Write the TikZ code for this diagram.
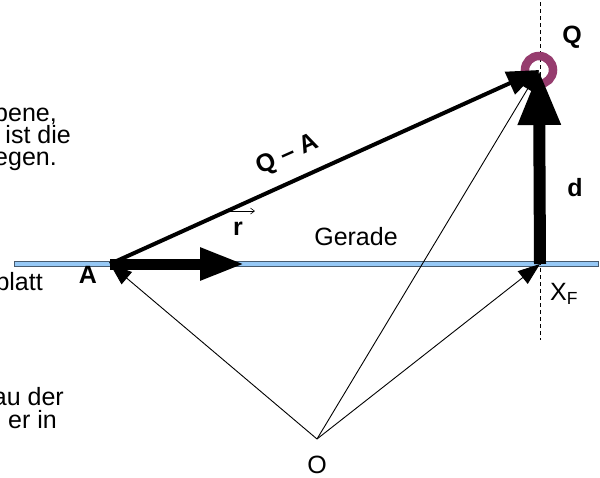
\documentclass[tikz,border=0pt]{standalone}
\usepackage{fontspec}
\setmainfont{Liberation Sans}
\usetikzlibrary{arrows.meta, calc}
\definecolor{cLine}{RGB}{150,200,245}
\definecolor{cEdge}{RGB}{70,90,110}
\definecolor{cRing}{RGB}{150,60,110}
\tikzset{
	lbl/.style={font=\fontsize{25}{29}\selectfont, inner sep=0pt},
	boldlbl/.style={font=\fontsize{25}{29}\selectfont\bfseries, inner sep=0pt},
	sidetext/.style={font=\fontsize{25}{29}\selectfont, inner sep=0pt, anchor=base east},
	thinvec/.style={-{Triangle[length=22pt, width=16pt]}, line width=0.9pt},
	diffvec/.style={-{Triangle[length=32pt, width=24pt]}, line width=4pt},
	rvec/.style={-{Triangle[length=45pt, width=30pt]}, line width=11pt},
	dvec/.style={-{Triangle[length=55pt, width=40pt]}, line width=12pt},
	% helper lines
	gerade/.style={draw=cEdge, fill=cLine, line width=0.8pt},
	lotline/.style={line width=0.8pt, dash pattern=on 4pt off 3pt},
}

\begin{document}
\begin{tikzpicture}[x=1pt, y=-1pt]
	\useasboundingbox (0,0) rectangle (600,477);
	\clip (0,0) rectangle (600,477);
	% points
	\coordinate (A) at (110,264);
	\coordinate (XF) at (540,264);
	\coordinate (Q) at (539,70);
	\coordinate (O) at (317,439);
	\coordinate (rtip) at (245,264);
	\coordinate (lottop) at (540,2);
	\coordinate (lotbot) at (540,340);
	% line and ring
	\draw[gerade] (14,261.5) rectangle (598,266.5);
	\draw[lotline] (lottop) -- (lotbot);
	\draw[cRing, line width=8.5pt] (Q) circle[radius=14];
	% vectors
	\draw[thinvec] (O) -- (A);
	\draw[thinvec] (O) -- (XF);
	\draw[thinvec] (O) -- (Q);
	\draw[diffvec] (A) -- (Q);
	\draw[rvec] (A) -- (rtip);
	\draw[dvec] (XF) -- (Q);
	% labels
	\node[boldlbl] (Qlab) at (572,37) {Q};
	\node[boldlbl] (dlab) at (575,188) {d};
	\node[boldlbl] (Alab) at (88,275) {A};
	\node[boldlbl, rotate=24] (QAlab) at (288,155) {Q – A};
	\node[boldlbl] (rlab) at (238,229) {r};
	\draw[-{Straight Barb[length=4pt, width=6pt]}, line width=0.6pt] (rlab.north west) ++(-3,-11) -- ++(25,0);
	\node[lbl] (gerlab) at (356,237) {Gerade};
	\node[lbl, anchor=west] (xflab) at (550,294) {X\textsubscript{F}};
	\node[lbl] (Olab) at (317,465) {O};
	% cut-off side text
	\node[sidetext] (t1) at (57,121) {bene,};
	\node[sidetext] (t2) at (71,143) {ist die};
	\node[sidetext] (t3) at (57,165) {egen.};
	\node[sidetext] (t4) at (43,290) {blatt};
	\node[sidetext] (t5) at (64,405) {au der};
	\node[sidetext] (t6) at (57,428) {er in};
\end{tikzpicture}
\end{document}
